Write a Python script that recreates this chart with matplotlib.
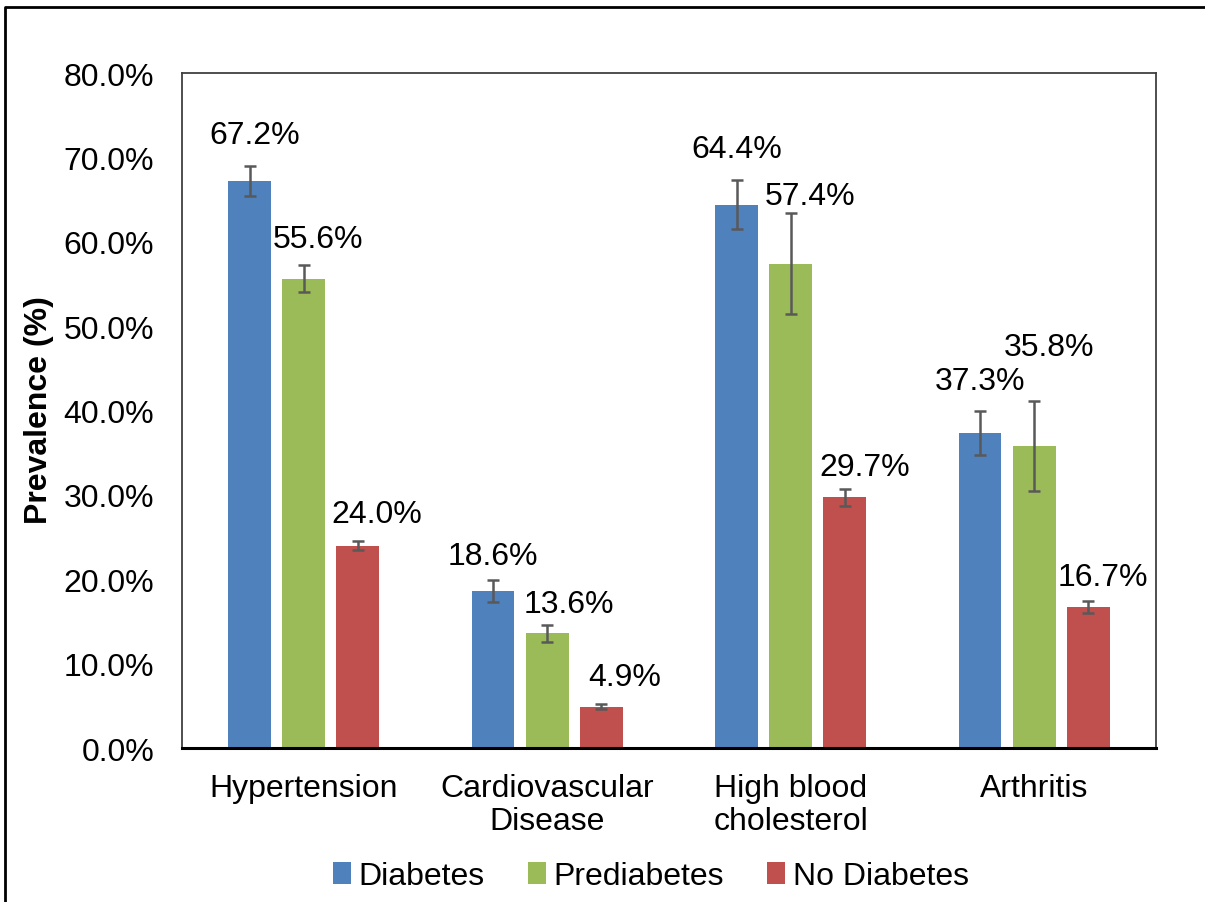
import matplotlib
matplotlib.use("Agg")
import matplotlib.pyplot as plt
import numpy as np
from matplotlib.patches import Patch
from matplotlib.lines import Line2D

plt.rcParams['font.family'] = ['Liberation Sans', 'DejaVu Sans']

# data
categories = ["Hypertension", "Cardiovascular\nDisease", "High blood\ncholesterol", "Arthritis"]
series_names = ["Diabetes", "Prediabetes", "No Diabetes"]
diabetes = [67.2, 18.6, 64.4, 37.3]
prediabetes = [55.6, 13.6, 57.4, 35.8]
no_diabetes = [24.0, 4.9, 29.7, 16.7]
diabetes_err = [1.8, 1.3, 2.9, 2.6]
prediabetes_err = [1.6, 1.0, 6.0, 5.3]
no_diabetes_err = [0.5, 0.3, 1.0, 0.7]
yticks = [0, 10, 20, 30, 40, 50, 60, 70, 80]

values = [diabetes, prediabetes, no_diabetes]
errors = [diabetes_err, prediabetes_err, no_diabetes_err]
colors = ["#4F81BD", "#9BBB59", "#C0504D"]

# label nudges (pixels) relative to the top of each error bar
label_dx = [[5, 0, 0, 0], [14, 22, 19, 15], [19, 23, 20, 15]]
label_dy = [[31, 24, 31, 30], [26, 21, 17, 54], [27, 27, 22, 24]]

FS = 23

fig = plt.figure(figsize=(12.05, 9.03), dpi=100)
ax = fig.add_axes([0.151, 0.1705, 0.8083, 0.7475])

x = np.arange(len(categories))
width = 0.175
step = 0.222

for i, (vals, errs) in enumerate(zip(values, errors)):
    pos = x + (i - 1) * step
    ax.bar(pos, vals, width, color=colors[i], label=series_names[i], zorder=2)
    ax.errorbar(pos, vals, yerr=errs, fmt='none', ecolor='#595959',
                elinewidth=1.8, capsize=4.3, capthick=1.8, zorder=3)
    for j, (p, v, e) in enumerate(zip(pos, vals, errs)):
        ax.annotate(f"{v:.1f}%", xy=(p, v + e), xytext=(label_dx[i][j], label_dy[i][j]),
                    textcoords='offset pixels', ha='center', va='center', fontsize=FS)

ax.set_xlim(-0.5, 3.5)
ax.set_ylim(0, 80)
ax.set_yticks(yticks)
ax.set_yticklabels([f"{t:.1f}%" for t in yticks], fontsize=FS)
ax.set_xticks(x)
ax.set_xticklabels(categories, fontsize=FS, linespacing=1.15)
ax.tick_params(axis='y', length=0, pad=20)
ax.tick_params(axis='x', length=0, pad=18)

for side in ['left', 'top', 'right']:
    ax.spines[side].set_linewidth(1.3)
    ax.spines[side].set_color('#404040')
ax.spines['bottom'].set_linewidth(2.2)
ax.spines['bottom'].set_color('black')

fig.text(39 / 1205, 1 - 410 / 903, "Prevalence (%)", rotation=90, ha='center', va='center',
         fontsize=FS, fontweight='bold')

handles = [Patch(facecolor=c, label=n) for c, n in zip(colors, series_names)]
fig.legend(handles=handles, loc='center', bbox_to_anchor=(651 / 1205, 1 - 877 / 903), ncol=3,
           frameon=False, fontsize=FS, handlelength=0.55, handleheight=0.7,
           handletextpad=0.25, columnspacing=1.35)

# outer chart border (cut off at right and bottom)
fig.add_artist(Line2D([5 / 1205, 5 / 1205, 1.0], [0.0, 1 - 8 / 903, 1 - 8 / 903],
                      transform=fig.transFigure, color='black', linewidth=2))

fig.savefig("out.png", dpi=100)
